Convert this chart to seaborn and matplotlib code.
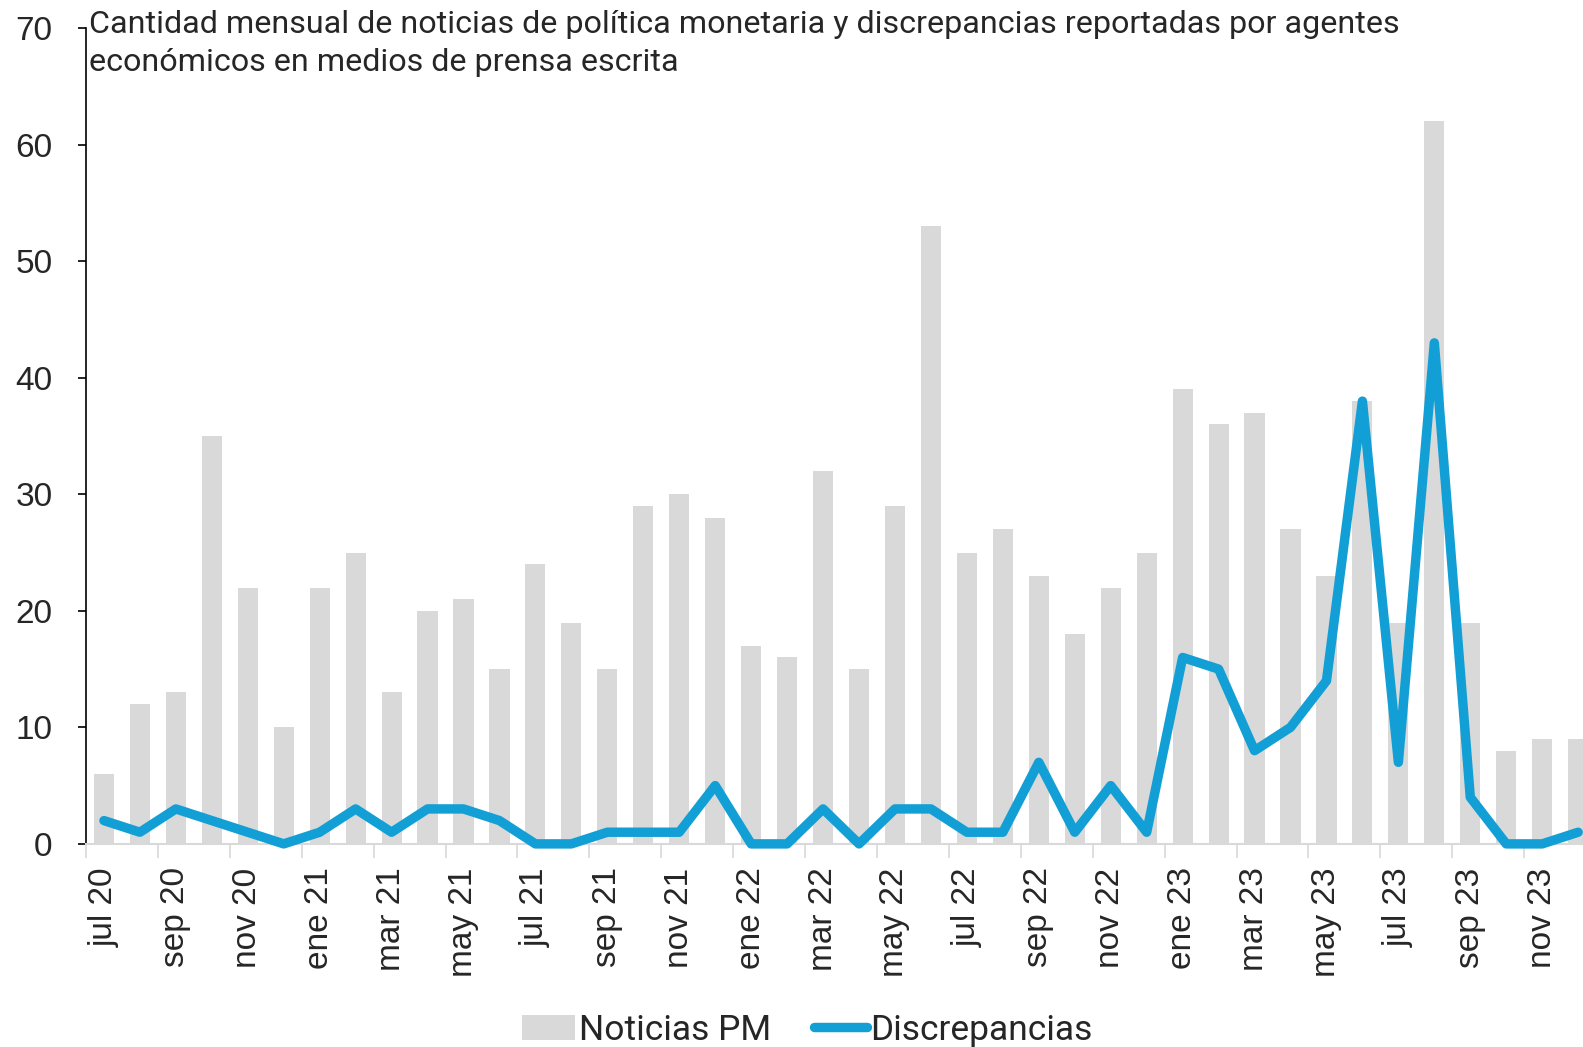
import numpy as np
import pandas as pd
import matplotlib
matplotlib.use("Agg")
import matplotlib.pyplot as plt
import seaborn as sns
from matplotlib.patches import Patch
from matplotlib.lines import Line2D

meses = ["jul 20", "ago 20", "sep 20", "oct 20", "nov 20", "dic 20",
         "ene 21", "feb 21", "mar 21", "abr 21", "may 21", "jun 21",
         "jul 21", "ago 21", "sep 21", "oct 21", "nov 21", "dic 21",
         "ene 22", "feb 22", "mar 22", "abr 22", "may 22", "jun 22",
         "jul 22", "ago 22", "sep 22", "oct 22", "nov 22", "dic 22",
         "ene 23", "feb 23", "mar 23", "abr 23", "may 23", "jun 23",
         "jul 23", "ago 23", "sep 23", "oct 23", "nov 23", "dic 23"]

noticias_pm = [6, 12, 13, 35, 22, 10,
               22, 25, 13, 20, 21, 15,
               24, 19, 15, 29, 30, 28,
               17, 16, 32, 15, 29, 53,
               25, 27, 23, 18, 22, 25,
               39, 36, 37, 27, 23, 38,
               19, 62, 19, 8, 9, 9]

discrepancias = [2, 1, 3, 2, 1, 0,
                 1, 3, 1, 3, 3, 2,
                 0, 0, 1, 1, 1, 5,
                 0, 0, 3, 0, 3, 3,
                 1, 1, 7, 1, 5, 1,
                 16, 15, 8, 10, 14, 38,
                 7, 43, 4, 0, 0, 1]

titulo = ("Cantidad mensual de noticias de política monetaria y discrepancias reportadas por agentes\n"
          "económicos en medios de prensa escrita")

gris = "#D9D9D9"
azul = "#129FD5"

df = pd.DataFrame({"mes": meses, "noticias": noticias_pm,
                   "discrepancias": discrepancias, "pos": np.arange(len(meses))})

sns.set_style("white")
plt.rcParams["font.family"] = ["Liberation Sans", "DejaVu Sans"]

fig = plt.figure(figsize=(15.83, 10.47), dpi=100)
ax = fig.add_axes([0.0543, 0.194, 0.954, 0.779])

sns.barplot(data=df, x="mes", y="noticias", color=gris, width=0.56,
            saturation=1, linewidth=0, ax=ax, zorder=2)
sns.lineplot(data=df, x="pos", y="discrepancias", color=azul, lw=6.8,
             ax=ax, zorder=3, solid_joinstyle="round", solid_capstyle="round")
for l in ax.lines:
    l.set_clip_on(False)

ax.set_xlim(-0.5, 41.5)
ax.set_ylim(0, 70)
ax.set_yticks(range(0, 71, 10))
ax.tick_params(axis="y", labelsize=24, length=6, width=1.2, color="black",
               direction="out", left=True, pad=18)

pos = np.arange(len(meses))
ax.set_xticks(pos[::2])
ax.set_xticklabels(meses[::2], rotation=90, fontsize=24)
ax.set_xticks(np.arange(-0.5, len(meses), 2), minor=True)
ax.tick_params(axis="x", which="major", length=0, pad=17)
ax.tick_params(axis="x", which="minor", length=10, width=1.2, color=gris,
               direction="out", bottom=True)

ax.set_xlabel("")
ax.set_ylabel("")
for s in ["top", "right"]:
    ax.spines[s].set_visible(False)
ax.spines["left"].set_color("black")
ax.spines["left"].set_linewidth(1.2)
ax.spines["bottom"].set_color(gris)
ax.spines["bottom"].set_linewidth(1.5)

fig.text(0.0565, 0.99, titulo, ha="left", va="top", fontsize=23.2,
         family=["Roboto", "DejaVu Sans"], linespacing=1.38)

handles = [Patch(facecolor=gris, edgecolor="none"),
           Line2D([0], [0], color=azul, lw=6.8, solid_capstyle="round")]
fig.legend(handles, ["Noticias PM", "Discrepancias"], loc="lower center",
           bbox_to_anchor=(0.51, -0.03), ncol=2, frameon=False,
           prop={"family": ["Roboto", "DejaVu Sans"], "size": 25.5},
           handlelength=1.5, handletextpad=0.1, columnspacing=1.2)

fig.savefig("out.png", dpi=100)
